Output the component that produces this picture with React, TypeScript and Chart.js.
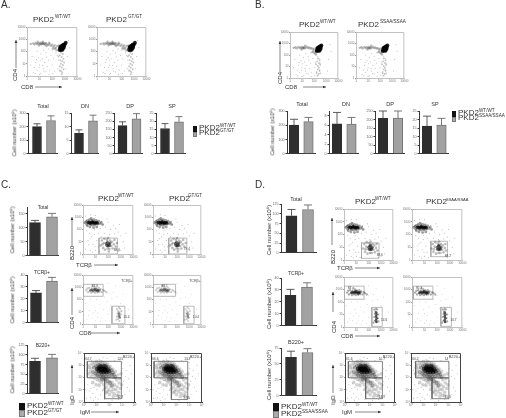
import React, { useEffect, useRef } from "react";
import { Chart, registerables } from "chart.js";
Chart.register(...registerables);

// ---------- bar data (value, top of error bar) ----------
const aTotal = [200, 245]; const aTotalErr = [221, 279];
const aDN = [7.5, 12.1]; const aDNErr = [8.8, 14.2];
const aDP = [173, 214]; const aDPErr = [196, 246];
const aSP = [15.5, 19.6]; const aSPErr = [18.5, 22.8];
const bTotal = [201, 226]; const bTotalErr = [242, 255];
const bDN = [6.3, 6.25]; const bDNErr = [8.7, 7.65];
const bDP = [207, 209]; const bDPErr = [250, 250];
const bSP = [16.2, 16.8]; const bSPErr = [22, 20.7];
const cTotal = [119, 140]; const cTotalErr = [127, 152];
const cTcr = [25, 35]; const cTcrErr = [27, 38];
const cB220 = [83.5, 92]; const cB220Err = [91, 101];
const dTotal = [95, 111]; const dTotalErr = [111, 122.5];
const dTcr = [25.6, 32.4]; const dTcrErr = [30.5, 36];
const dB220 = [60.4, 68]; const dB220Err = [70, 74];

// ---------- flow cytometry dots, in log decades ----------
type P = number[][];
const dpSparse: P = [[.5,.3],[.7,1.1],[.8,.5],[1,.9],[1.1,.2],[1.2,1.4],[1.3,.6],[1.4,1.1],[1.5,.35],[1.6,.8],[.9,1.5],[.6,.7],[1.7,1.3],[1.8,.5],[1.9,1.7],[2,.9],[2.1,1.4],[2.2,.4],[2.3,1.9],[1.1,1.8],[.4,1.6],[1.5,1.9],[.3,.9],[2,2.1],[1.7,2.2],[2.2,2.2],[2.4,1.7],[1.3,2.1],[.8,2],[3.2,1.6],[3.1,.6],[3.3,2.9],[3.4,2.3],[1,.15],[1.35,.4],[1.75,.15],[.65,.2],[2.45,.6],[2.5,1.3],[1.05,1.25],[.95,.7],[1.55,1.55],[1.25,.85],[.75,1.35],[2.05,.2]];
const dpBandA: P = [[.3,2.62],[.5,2.66],[.6,2.58],[.7,2.7],[.8,2.62],[.9,2.68],[1,2.6],[1.05,2.72],[1.1,2.64],[1.15,2.58],[1.2,2.68],[1.25,2.62],[1.3,2.72],[1.35,2.6],[1.4,2.66],[1.45,2.56],[1.5,2.7],[1.6,2.6],[1.7,2.52],[1.8,2.62],[1.9,2.46],[2,2.56],[2.1,2.4],[2.2,2.5],[2.3,2.3],[2.4,2.45],[2.35,2.1],[2.2,2.25],[2.5,2.15],[2.55,2.5],[.95,2.5],[1.25,2.8],[1.55,2.45],[1.75,2.72],[.85,2.8],[2.05,2.25]];
const dpCoreA: P = [[2.8,2.36],[2.7,2.3],[2.9,2.42],[2.75,2.2],[2.85,2.25],[2.65,2.38],[2.95,2.5],[2.78,2.48],[2.88,2.55],[2.62,2.25],[3,2.6],[2.7,2.12],[2.82,2.14],[2.93,2.32],[2.72,2.42],[3.08,2.72],[2.6,2.12]];
const dpTailA: P = [[2.7,1.9],[2.85,1.8],[2.6,1.7],[2.75,1.55],[2.9,1.4],[2.65,1.3],[2.8,1.2],[2.7,1],[2.85,.9],[2.6,.8],[2.75,.7],[2.9,.55],[2.7,.4],[2.8,.3],[2.6,.45],[2.95,1.1],[2.5,1.6],[2.75,.15]];
const dpBandB: P = [[.3,2.62],[.45,2.68],[.55,2.58],[.7,2.7],[.8,2.6],[.9,2.68],[1,2.58],[1.05,2.7],[1.1,2.62],[1.15,2.56],[1.2,2.66],[1.3,2.6],[1.4,2.72],[1.5,2.6],[1.6,2.66],[1.7,2.56],[1.8,2.6],[1.9,2.48],[2,2.55],[1.95,2.3],[2.05,2.15],[1.85,2.25],[2.15,2.05],[.95,2.48],[1.25,2.8]];
const dpCoreB: P = [[2.41,2.58],[2.32,2.52],[2.5,2.65],[2.36,2.42],[2.46,2.46],[2.26,2.6],[2.56,2.72],[2.4,2.7],[2.5,2.78],[2.24,2.46],[2.6,2.84],[2.32,2.36],[2.44,2.36],[2.54,2.54],[2.33,2.64],[2.2,2.34]];
const dpTailB: P = [[2.3,1.7],[2.45,1.55],[2.25,1.45],[2.4,1.3],[2.5,1.15],[2.3,1.05],[2.4,.9],[2.3,.75],[2.45,.65],[2.2,.5],[2.35,.35],[2.5,.4],[2.15,1.2],[2.28,.2]];

const tcrSparse: P = [[.2,.4],[.4,1.1],[.6,.3],[.7,1.4],[.8,.8],[.9,1.6],[1,.3],[1.1,1.1],[1.2,.6],[.5,1.7],[.3,1.9],[.9,1.95],[1.2,1.7],[1.4,2.1],[1.6,2.4],[1.8,2.2],[2,2.6],[2.2,2],[2.4,2.35],[2.6,2.1],[2.8,1.8],[3,1.5],[2.9,2.4],[3.2,1],[3.3,.5],[3,.3],[2.8,.2],[.45,.75],[.75,.15],[1.3,.2],[1.45,1.4],[1.7,1.7],[2.1,1.6],[2.5,1.65],[1.5,2.7],[1.9,2.85],[.2,3.1],[.6,3.2],[1,3.15],[3.4,1.7],[.95,.6],[.55,1.25]];
const tcrBHaze: P = [[.15,2.55],[.25,2.65],[.3,2.42],[.35,2.72],[.45,2.5],[.5,2.8],[.6,2.38],[.7,2.75],[.75,2.35],[.85,2.8],[.95,2.36],[1.05,2.75],[1.15,2.42],[1.25,2.68],[1.35,2.48],[1.45,2.58],[.55,2.2],[.85,2.15],[1.1,2.2],[1.55,2.4],[.35,2.3],[.65,2.9]];
const tcrBCore: P = [[.4,2.57],[.5,2.6],[.6,2.52],[.7,2.6],[.8,2.52],[.9,2.6],[1,2.55],[1.1,2.58],[.75,2.62],[.95,2.5],[1.15,2.52],[.55,2.52]];
const tcrTHazeC: P = [[1.4,.7],[1.5,1.1],[1.6,.5],[1.65,.9],[1.7,1.25],[1.75,.35],[1.85,.75],[1.9,1.15],[1.95,.45],[2,1.3],[2.1,.4],[2.15,1.1],[2.25,.65],[2.3,1],[2.35,.45],[2.45,.8],[2.5,1.15],[2.6,.6],[1.55,.8],[2.05,.2],[2.7,.9]];
const tcrTCoreC: P = [[1.85,.85],[1.95,.95],[2.05,.8],[2,.65],[2.15,.9],[1.9,.7],[2.1,.7]];
const tcrTHazeD: P = [[1.55,.9],[1.65,1.25],[1.7,.65],[1.8,1.05],[1.85,1.4],[1.9,.5],[2,.85],[2.05,1.3],[2.1,.55],[2.15,1.45],[2.25,.55],[2.3,1.25],[2.4,.8],[2.45,1.15],[2.5,.6],[2.6,.95],[2.65,1.25],[2.7,.75],[1.75,.85]];
const tcrTCoreD: P = [[2,1],[2.1,1.1],[2.2,.95],[2.15,.8],[2.3,1],[2.05,.85],[2.25,.85],[2.15,1.15]];

const cdSparse: P = [[.3,.4],[.5,1.1],[.7,.5],[.9,1.4],[1,.3],[1.2,.9],[1.35,1.6],[1.5,.5],[1.6,1.2],[1.8,.3],[1.9,1.8],[2,.8],[2.2,1.5],[2.3,2.1],[1.7,2.2],[2,2.5],[2.4,2.6],[2.7,2.2],[3,1.7],[3.2,2.4],[3.4,.7],[3.6,1.2],[.2,1.7],[.6,2],[1.1,2],[2.6,3.1],[2,3.3],[1,1.1],[.8,.9],[1.4,.2],[.45,.7],[1.15,.55]];
const cdFourHaze: P = [[.25,2.75],[.4,2.6],[.5,2.95],[.55,2.7],[.65,2.55],[.7,2.9],[.8,2.62],[.9,3],[.95,2.55],[1.05,2.92],[1.15,2.58],[1.25,2.95],[1.3,2.62],[1.4,2.85],[1.5,2.6],[1.6,2.78],[1.7,2.7],[1.85,2.6],[.35,2.9],[.75,3.1]];
const cdFourCore: P = [[.7,2.78],[.8,2.72],[.9,2.8],[1,2.72],[1.1,2.8],[1.2,2.74],[1.3,2.76],[.95,2.85],[1.15,2.68],[.6,2.74]];
const cdEightHazeC: P = [[2.7,1.2],[2.8,1.05],[2.95,1.25],[2.75,.85],[2.9,.95],[3,.8],[2.7,.6],[2.85,.65],[2.95,.5],[2.8,.4],[2.9,.25],[2.65,.35],[3.05,1.05],[2.85,1.35]];
const cdEightCoreC: P = [[2.85,.85],[2.88,.7],[2.9,.55]];
const cdEightHazeD: P = [[2.45,1.4],[2.55,1.25],[2.7,1.4],[2.5,1.05],[2.65,1.15],[2.8,1],[2.45,.8],[2.6,.85],[2.75,.7],[2.5,.5],[2.65,.4],[2.4,.35],[2.8,.45],[2.6,1.45]];
const cdEightCoreD: P = [[2.6,1.15],[2.65,1],[2.6,.85],[2.65,.7],[2.6,.55],[2.63,.4]];

const igSparse: P = [[.2,.3],[.4,.9],[.5,.35],[.6,1.5],[.7,.7],[.8,1.2],[.9,.4],[1,1],[1.1,.25],[1.15,1.5],[.3,1.4],[.35,2],[.2,2.6],[.25,3.2],[.6,3.4],[1.2,3.5],[1.8,3.55],[2.4,3.4],[3,3.2],[3.3,2.6],[3.5,1.9],[3.4,1.2],[3.2,.6],[3,.3],[3.1,1.7],[3.25,2.1],[3.55,.9],[2.7,.2],[2.2,.15],[1.6,.2],[.75,.15],[1.3,.6],[1.45,.95],[.55,1.1],[.95,1.75],[.15,1],[3.6,3],[3.7,2.3],[3.05,2.75],[2.85,3.5],[1.5,3.65],[.5,2.3]];
const igHaze: P = [[.35,2.3],[.4,2.8],[.45,3],[.5,2.5],[.55,2.05],[.6,2.75],[.65,3.15],[.7,2.25],[.75,2.95],[.8,1.95],[.85,3.2],[.9,2.55],[.95,2.15],[1,3.3],[1.05,1.85],[1.1,2.1],[1.15,3.2],[1.2,1.75],[1.25,2.05],[1.3,3.3],[1.35,1.6],[1.4,1.95],[1.45,3.25],[1.5,1.75],[1.55,1.4],[1.6,2],[1.65,3.2],[1.7,1.6],[1.75,1.2],[1.8,1.9],[1.85,3.1],[1.9,1.45],[1.95,1],[2,1.7],[2.05,2.9],[2.1,1.25],[2.15,.85],[2.2,1.6],[2.25,2.7],[2.3,1.05],[2.35,.7],[2.4,1.4],[2.45,2.5],[2.5,1],[2.55,.55],[2.6,1.25],[2.65,2.2],[2.7,.8],[2.75,1.55],[2.8,1.9],[2.85,1.1],[2.9,2.3],[2,.6],[1.75,.75],[1.6,1.05],[2.3,.45],[2.7,.5],[1.2,1.35],[.95,1.4],[.7,1.6],[2.95,1.4],[2.55,1.8],[2.3,2],[2.05,2.15],[1.85,.85]];
const igMid: P = [[.7,2.45],[.8,2.8],[.9,2.3],[.95,2.95],[1,2.5],[1.05,2.2],[1.1,3],[1.2,2.3],[1.25,3.05],[1.3,2.1],[1.4,2.25],[1.45,3],[1.5,2.05],[1.55,2.2],[1.6,3],[1.7,2.1],[1.75,2.95],[1.8,2.25],[1.9,2.85],[1.95,2.1],[2,2.7],[2.05,2.35],[2.15,2.6],[2.2,2.2],[2.25,2.4],[2.35,2.25],[1.65,1.85],[1.85,1.7],[2.05,1.55],[2.2,1.35],[2.45,2.05],[1.4,1.85]];
const igCore: P = [[1.05,2.7],[1.15,2.55],[1.2,2.8],[1.3,2.65],[1.35,2.45],[1.4,2.8],[1.45,2.6],[1.55,2.75],[1.55,2.45],[1.65,2.6],[1.7,2.8],[1.75,2.45],[1.85,2.65],[1.95,2.5],[1.3,2.9],[1.6,2.9]];

// ---------- names ----------
const wtLabel = "PKD2"; const wtSup = "WT/WT"; const gtSup = "GT/GT"; const ssSup = "SSAA/SSAA";
const decadeTicks = ["1", "10", "100", "1000", "10000"];
const powerTicks = ["10⁰", "10¹", "10²", "10³", "10⁴"];
const yLabelText = "Cell number (x10⁶)";
const darkFill = "#2e2e2e"; const lightFill = "#a2a2a2"; const lightEdge = "#757575";
const FONT = '"Liberation Sans", Arial, sans-serif';

type Box = [number, number, number, number];

function BarPlot({ box, vals, errs, max, step, c1, c2, thick, cap }: { box: Box; vals: number[]; errs: number[]; max: number; step: number; c1: number; c2: number; thick: number; cap: number }) {
  const ref = useRef<HTMLCanvasElement>(null);
  const ml = 14, mb = 2, mt = 4, mr = 2;
  const [x, y, w, h] = box;
  useEffect(() => {
    const s = c2 - c1;
    const chart = new Chart(ref.current as HTMLCanvasElement, {
      type: "bar",
      data: {
        datasets: [{
          data: vals.map((v, i) => ({ x: i + 1, y: v })),
          backgroundColor: [darkFill, lightFill],
          borderColor: [darkFill, lightEdge],
          borderWidth: 1,
          barThickness: thick,
        }],
      },
      options: {
        animation: false, responsive: false, devicePixelRatio: 1,
        layout: { padding: { top: mt, right: mr, left: 0, bottom: 0 } },
        plugins: { legend: { display: false }, tooltip: { enabled: false } },
        scales: {
          x: {
            type: "linear", offset: false,
            min: 1 - (c1 - x) / s, max: 2 + (x + w - c2) / s,
            ticks: { display: false }, grid: { display: false },
            border: { color: "#3a3a3a", width: 1 },
            afterFit: (sc: any) => { sc.height = mb; },
          },
          y: {
            min: 0, max,
            ticks: { stepSize: step, font: { size: 3.6, family: FONT }, color: "#666", padding: 1 },
            grid: { drawOnChartArea: false, tickLength: 1.5, color: "#3a3a3a" },
            border: { color: "#3a3a3a", width: 1 },
            afterFit: (sc: any) => { sc.width = ml; },
          },
        },
      } as any,
      plugins: [{
        id: "errorBars",
        afterDatasetsDraw(c: any) {
          const g = c.ctx;
          errs.forEach((e, i) => {
            const px = c.scales.x.getPixelForValue(i + 1);
            const t = c.scales.y.getPixelForValue(e);
            const b = c.scales.y.getPixelForValue(vals[i]);
            g.save();
            g.strokeStyle = i === 0 ? "#4a4a4a" : "#6a6a6a";
            g.lineWidth = 0.9;
            g.beginPath();
            g.moveTo(px, b); g.lineTo(px, t);
            g.moveTo(px - cap / 2, t); g.lineTo(px + cap / 2, t);
            g.stroke();
            g.restore();
          });
        },
      }],
    });
    return () => chart.destroy();
  }, []);
  return <canvas ref={ref} width={w + ml + mr} height={h + mt + mb} style={{ position: "absolute", left: x - ml, top: y - mt }} />;
}

type Layer = { pts: P; r: number; color: string };
type Gate = number[][];
type Note = { x: number; y: number; text: string; size?: number; align?: CanvasTextAlign };

function FlowPlot({ box, layers, gates = [], notes = [], frame = "#c2c2c2", gateColor = "#a8a8a8", labels = decadeTicks }: { box: Box; layers: Layer[]; gates?: Gate[]; notes?: Note[]; frame?: string; gateColor?: string; labels?: string[] }) {
  const ref = useRef<HTMLCanvasElement>(null);
  const ml = 9, mb = 6, mt = 3, mr = 4;
  const [x, y, w, h] = box;
  useEffect(() => {
    const chart = new Chart(ref.current as HTMLCanvasElement, {
      type: "scatter",
      data: {
        datasets: [
          ...layers.map((l) => ({
            data: l.pts.map((p) => ({ x: p[0], y: p[1] })),
            pointRadius: l.r, backgroundColor: l.color, pointBorderWidth: 0, showLine: false,
          })),
          ...gates.map((g) => ({
            data: g.map((p) => ({ x: p[0], y: p[1] })),
            pointRadius: 0, showLine: true, borderColor: gateColor, borderWidth: 0.8, fill: false, tension: 0,
          })),
        ],
      },
      options: {
        animation: false, responsive: false, devicePixelRatio: 1,
        layout: { padding: { top: mt, right: mr, left: 0, bottom: 0 } },
        plugins: { legend: { display: false }, tooltip: { enabled: false } },
        scales: {
          x: {
            type: "linear", min: 0, max: 4,
            ticks: { stepSize: 1, autoSkip: false, maxRotation: 0, callback: (v: number) => labels[v], font: { size: 3, family: FONT }, color: "#777", padding: 0.5 },
            grid: { drawOnChartArea: false, tickLength: 1, color: "#999" },
            border: { color: frame, width: 1 },
            afterFit: (sc: any) => { sc.height = mb; },
          },
          y: {
            type: "linear", min: 0, max: 4,
            ticks: { stepSize: 1, autoSkip: false, callback: (v: number) => labels[v], font: { size: 3, family: FONT }, color: "#777", padding: 0.5 },
            grid: { drawOnChartArea: false, tickLength: 1, color: "#999" },
            border: { color: frame, width: 1 },
            afterFit: (sc: any) => { sc.width = ml; },
          },
        },
      } as any,
      plugins: [{
        id: "frameAndNotes",
        afterDatasetsDraw(c: any) {
          const g = c.ctx; const a = c.chartArea;
          g.save();
          g.strokeStyle = frame; g.lineWidth = 1;
          g.beginPath();
          g.moveTo(a.left, a.top + 0.5); g.lineTo(a.right - 0.5, a.top + 0.5); g.lineTo(a.right - 0.5, a.bottom);
          g.stroke();
          notes.forEach((n) => {
            g.font = `${n.size ?? 3.2}px ${FONT}`;
            g.fillStyle = "#444";
            g.textAlign = n.align ?? "left";
            g.fillText(n.text, c.scales.x.getPixelForValue(n.x), c.scales.y.getPixelForValue(n.y));
          });
          g.restore();
        },
      }],
    });
    return () => chart.destroy();
  }, []);
  return <canvas ref={ref} width={w + ml + mr} height={h + mt + mb} style={{ position: "absolute", left: x - ml, top: y - mt }} />;
}

function T({ x, y, size, children, center, color = "#2a2a2a" }: { x: number; y: number; size: number; children: React.ReactNode; center?: boolean; color?: string }) {
  return <div style={{ position: "absolute", left: x, top: y - size * 0.8465, fontSize: size, lineHeight: 1, whiteSpace: "nowrap", fontFamily: FONT, color, willChange: "opacity", opacity: 0.97, transform: center ? "translateX(-50%)" : undefined }}>{children}</div>;
}
function V({ x, y, size, children }: { x: number; y: number; size: number; children: React.ReactNode }) {
  return <div style={{ position: "absolute", left: x, top: y, fontSize: size, lineHeight: 1, whiteSpace: "nowrap", fontFamily: FONT, color: "#2a2a2a", willChange: "opacity", opacity: 0.97, transform: "translate(-50%,-50%) rotate(-90deg)" }}>{children}</div>;
}
function Title({ x, y, sup, supX, supSize = 4.6 }: { x: number; y: number; sup: string; supX: number; supSize?: number }) {
  return <>
    <T x={x} y={y} size={8}>{wtLabel}</T>
    <T x={supX} y={y - 4} size={supSize}>{sup}</T>
  </>;
}
function Legend({ x, y, h, sup1, sup2, tx }: { x: number; y: number; h: number; sup1: string; sup2: string; tx: number }) {
  return <>
    <div style={{ position: "absolute", left: x, top: y, width: tx - x - 2, height: h, background: "#111" }} />
    <div style={{ position: "absolute", left: x, top: y + h, width: tx - x - 2, height: h, background: "#aaa", boxSizing: "border-box", border: "1px solid #777" }} />
    <T x={tx} y={y + h - 1} size={8}>{wtLabel}</T>
    <T x={tx + 21} y={y + h - 4} size={4.6}>{sup1}</T>
    <T x={tx} y={y + 2 * h - 1} size={8}>{wtLabel}</T>
    <T x={tx + 21} y={y + 2 * h - 4} size={4.6}>{sup2}</T>
  </>;
}

const SPARSE = "rgba(110,110,110,0.55)";
const dpLayers = (band: P, core: P, tail: P): Layer[] => [
  { pts: dpSparse, r: 0.5, color: SPARSE },
  { pts: tail, r: 0.95, color: "rgba(90,90,90,0.35)" },
  { pts: band, r: 1.2, color: "rgba(60,60,60,0.35)" },
  { pts: core, r: 1.9, color: "rgba(0,0,0,0.85)" },
];
const tcrLayers = (haze: P, core: P): Layer[] => [
  { pts: tcrSparse, r: 0.5, color: SPARSE },
  { pts: haze, r: 1.3, color: "rgba(60,60,60,0.35)" },
  { pts: tcrBHaze, r: 1.4, color: "rgba(40,40,40,0.45)" },
  { pts: tcrBCore, r: 1.6, color: "rgba(0,0,0,0.75)" },
  { pts: core, r: 1.5, color: "rgba(20,20,20,0.6)" },
];
const cdLayers = (haze: P, core: P, k: number): Layer[] => [
  { pts: cdSparse, r: 0.45, color: "rgba(120,120,120,0.5)" },
  { pts: cdFourHaze, r: 1.15, color: `rgba(60,60,60,${0.35 * k})` },
  { pts: cdFourCore, r: 1.4, color: `rgba(10,10,10,${0.5 * k})` },
  { pts: haze, r: 1.05, color: `rgba(60,60,60,${0.35 * k})` },
  { pts: core, r: 1.3, color: `rgba(10,10,10,${0.5 * k})` },
];
const igLayers: Layer[] = [
  { pts: igSparse, r: 0.5, color: SPARSE },
  { pts: igHaze, r: 1.8, color: "rgba(90,90,90,0.28)" },
  { pts: igMid, r: 2, color: "rgba(50,50,50,0.4)" },
  { pts: igCore, r: 2.4, color: "rgba(0,0,0,0.7)" },
];
const box = (x0: number, x1: number, y0: number, y1: number): Gate => [[x0, y0], [x1, y0], [x1, y1], [x0, y1], [x0, y0]];
const igGates = (l: number, m: number, r: number, b: number): Gate[] => [box(l, r, 1.97, 3.32), box(m, r, b, 1.97)];

export default function App() {
  useEffect(() => { document.body.style.margin = "0"; }, []);
  const arrows: number[][] = [
    [16, 68, 16, 40], [35, 87, 62, 87], [280, 72, 280, 41], [303, 87, 326, 87],
    [72, 247, 72, 217], [94, 265, 118, 265], [72, 315, 72, 288], [91, 333, 120, 333], [72, 393, 72, 365], [91, 412, 119, 412],
    [332, 245, 332, 218], [355, 268, 380, 268], [333, 312, 333, 292], [355, 336, 380, 336], [333, 393, 333, 365], [355, 412, 381, 412],
  ];
  return (
    <div style={{ position: "absolute", left: 0, top: 0, width: 506, height: 418, overflow: "hidden", background: "#fff", filter: "blur(0.4px)" }}>
      {/* Panel letters */}
      <T x={1} y={8} size={10}>A.</T>
      <T x={255} y={8} size={10}>B.</T>
      <T x={1} y={188} size={10}>C.</T>
      <T x={255} y={188} size={10}>D.</T>

      {/* Panel A */}
      <Title x={33} y={23} sup={wtSup} supX={55} />
      <Title x={106} y={23} sup={gtSup} supX={128} />
      <FlowPlot box={[27, 26, 51, 50]} layers={dpLayers(dpBandA, dpCoreA, dpTailA)} />
      <FlowPlot box={[97, 26, 50, 50]} layers={dpLayers(dpBandA, dpCoreA, dpTailA)} />
      <V x={15} y={75} size={6}>CD4</V>
      <T x={21} y={89} size={6}>CD8</T>
      <T x={43} y={109} size={5.5} center>Total</T>
      <T x={85} y={109} size={5.5} center>DN</T>
      <T x={130} y={109} size={5.5} center>DP</T>
      <T x={172} y={109} size={5.5} center>SP</T>
      <V x={15} y={133} size={5.6}>{yLabelText}</V>
      <BarPlot box={[28, 113, 29, 42]} vals={aTotal} errs={aTotalErr} max={300} step={100} c1={37} c2={51} thick={9} cap={7} />
      <BarPlot box={[71, 113, 27, 42]} vals={aDN} errs={aDNErr} max={15} step={5} c1={79} c2={93} thick={9} cap={7} />
      <BarPlot box={[114, 113, 28, 42]} vals={aDP} errs={aDPErr} max={250} step={50} c1={122.5} c2={136.5} thick={9} cap={7} />
      <BarPlot box={[156, 113, 29, 42]} vals={aSP} errs={aSPErr} max={25} step={5} c1={165} c2={179} thick={9} cap={7} />
      <Legend x={193} y={126} h={5.5} sup1={wtSup} sup2={gtSup} tx={199} />

      {/* Panel B */}
      <Title x={299} y={28} sup={wtSup} supX={320} />
      <Title x={358} y={28} sup={ssSup} supX={380} />
      <FlowPlot box={[290, 31, 49, 47]} layers={dpLayers(dpBandB, dpCoreB, dpTailB)} />
      <FlowPlot box={[356, 31, 49, 47]} layers={dpLayers(dpBandB, dpCoreB, dpTailB)} />
      <V x={280} y={78} size={6}>CD4</V>
      <T x={285} y={89} size={6}>CD8</T>
      <T x={302} y={107} size={5.5} center>Total</T>
      <T x={346} y={107} size={5.5} center>DN</T>
      <T x={390} y={107} size={5.5} center>DP</T>
      <T x={435} y={107} size={5.5} center>SP</T>
      <V x={273} y={132} size={5.6}>{yLabelText}</V>
      <BarPlot box={[287, 111, 28, 44]} vals={bTotal} errs={bTotalErr} max={300} step={100} c1={294} c2={308.5} thick={9.5} cap={8} />
      <BarPlot box={[329, 111, 29, 44]} vals={bDN} errs={bDNErr} max={9} step={1} c1={337} c2={351.5} thick={9.5} cap={8} />
      <BarPlot box={[375, 111, 29, 44]} vals={bDP} errs={bDPErr} max={250} step={50} c1={383} c2={398} thick={9.5} cap={8} />
      <BarPlot box={[419, 111, 29, 44]} vals={bSP} errs={bSPErr} max={25} step={5} c1={427} c2={441.5} thick={9.5} cap={8} />
      <Legend x={452} y={111} h={5.5} sup1={wtSup} sup2={ssSup} tx={458} />

      {/* Panel C */}
      <Title x={98} y={202} sup={wtSup} supX={118} />
      <Title x={169} y={202} sup={gtSup} supX={188} />
      <T x={43} y={209} size={5} center>Total</T>
      <V x={13} y={230} size={5.6}>{yLabelText}</V>
      <BarPlot box={[27, 207, 31, 50]} vals={cTotal} errs={cTotalErr} max={175} step={25} c1={35} c2={52} thick={11} cap={8} />
      <FlowPlot box={[83, 204, 51, 50]} layers={tcrLayers(tcrTHazeC, tcrTCoreC)} gates={[box(1.27, 2.73, 0, 1.3)]} notes={[{ x: 2.45, y: 0.25, text: "88.6" }]} />
      <FlowPlot box={[153, 204, 49, 50]} layers={tcrLayers(tcrTHazeC, tcrTCoreC)} gates={[box(1.3, 2.8, 0, 1.3)]} notes={[{ x: 2.55, y: 0.3, text: "79.4" }]} />
      <V x={72} y={253} size={6}>B220</V>
      <T x={76} y={267} size={6}>TCRβ</T>

      <T x={42} y={274} size={5} center>TCRβ+</T>
      <V x={13} y={300} size={5.6}>{yLabelText}</V>
      <BarPlot box={[27, 275, 31, 49]} vals={cTcr} errs={cTcrErr} max={40} step={10} c1={36} c2={52} thick={11} cap={8} />
      <FlowPlot box={[83, 274, 51, 50]} layers={cdLayers(cdEightHazeC, cdEightCoreC, 0.85)} gates={[box(0, 1.6, 2.26, 3.24), box(2.3, 3.33, 0.02, 1.45)]} notes={[{ x: 0.7, y: 3.03, text: "87.6" }, { x: 3.2, y: 0.5, text: "10.4" }, { x: 3.95, y: 3.45, text: "TCRβ+", size: 3.6, align: "right" }]} />
      <FlowPlot box={[153, 274, 49, 50]} layers={cdLayers(cdEightHazeC, cdEightCoreC, 0.7)} gates={[box(0, 1.87, 2.26, 3.24), box(2.55, 3.4, 0.02, 1.45)]} notes={[{ x: 0.7, y: 3.03, text: "88.1" }, { x: 3.3, y: 0.5, text: "10.4" }, { x: 3.95, y: 3.45, text: "TCRβ+", size: 3.6, align: "right" }]} />
      <V x={72} y={323} size={6}>CD4</V>
      <T x={79} y={335} size={6}>CD8</T>

      <T x={43} y={347} size={5} center>B220+</T>
      <V x={13} y={370} size={5.6}>{yLabelText}</V>
      <BarPlot box={[27, 345, 31, 50]} vals={cB220} errs={cB220Err} max={125} step={25} c1={35} c2={52} thick={11} cap={8} />
      <FlowPlot box={[84, 352, 51, 50]} layers={igLayers} frame="#444" gateColor="#666" labels={powerTicks} gates={igGates(0.26, 1.62, 2.93, 0.27)} notes={[{ x: 0.1, y: 3.42, text: "64.7" }, { x: 2.6, y: 3.42, text: "12.5" }, { x: 2.6, y: 0.35, text: "12.7" }, { x: 3.95, y: 3.6, text: "B220+", size: 4, align: "right" }]} />
      <FlowPlot box={[151, 352, 51, 50]} layers={igLayers} frame="#444" gateColor="#666" labels={powerTicks} gates={igGates(0.24, 1.6, 2.88, 0.2)} notes={[{ x: 0.1, y: 3.42, text: "66.6" }, { x: 2.6, y: 3.42, text: "13.3" }, { x: 2.55, y: 0.22, text: "9.85" }, { x: 3.95, y: 3.6, text: "B220+", size: 4, align: "right" }]} />
      <V x={72} y={400} size={6}>IgD</V>
      <T x={80} y={414} size={6}>IgM</T>
      <Legend x={19} y={403} h={7} sup1={wtSup} sup2={gtSup} tx={27} />

      {/* Panel D */}
      <Title x={355} y={205} sup={wtSup} supX={375} />
      <Title x={426} y={205} sup={ssSup} supX={446} supSize={4} />
      <T x={296} y={202} size={5.5} center>Total</T>
      <V x={269} y={230} size={6}>{yLabelText}</V>
      <BarPlot box={[281, 204, 35, 50]} vals={dTotal} errs={dTotalErr} max={125} step={25} c1={291.5} c2={308} thick={11} cap={8} />
      <FlowPlot box={[344, 208, 50, 52]} layers={tcrLayers(tcrTHazeD, tcrTCoreD)} gates={[box(1.42, 2.84, 0.13, 1.34)]} notes={[{ x: 2.65, y: 0.3, text: "88.6" }]} />
      <FlowPlot box={[412, 208, 51, 52]} layers={tcrLayers(tcrTHazeD, tcrTCoreD)} gates={[box(1.5, 2.82, 0.26, 1.47)]} notes={[{ x: 2.6, y: 0.2, text: "88.7" }]} />
      <V x={333} y={257} size={6}>B220</V>
      <T x={337} y={270} size={6}>TCRβ</T>

      <T x={296} y={275} size={5} center>TCRβ+</T>
      <V x={269} y={304} size={6}>{yLabelText}</V>
      <BarPlot box={[281, 278, 35, 49]} vals={dTcr} errs={dTcrErr} max={40} step={10} c1={290.5} c2={307} thick={11} cap={8} />
      <FlowPlot box={[344, 276, 50, 51]} layers={cdLayers(cdEightHazeD, cdEightCoreD, 1.25)} gates={[box(0, 1.63, 2.22, 3.27), box(2.26, 3.1, 0.05, 1.57)]} notes={[{ x: 0.3, y: 3.03, text: "84" }, { x: 3, y: 0.5, text: "14.6" }]} />
      <FlowPlot box={[412, 276, 51, 51]} layers={cdLayers(cdEightHazeD, cdEightCoreD, 1.25)} gates={[box(0.1, 1.66, 2.22, 3.27), box(2.29, 3.13, 0.05, 1.57)]} notes={[{ x: 0.3, y: 3.03, text: "90.1" }, { x: 3.05, y: 0.45, text: "10.7" }]} />
      <V x={334} y={327} size={6}>CD4</V>
      <T x={341} y={338} size={6}>CD8</T>

      <T x={296} y={345} size={5.5} center>B220+</T>
      <V x={269} y={375} size={6}>{yLabelText}</V>
      <BarPlot box={[281, 348, 35, 49]} vals={dB220} errs={dB220Err} max={75} step={25} c1={291} c2={307.5} thick={11} cap={8} />
      <FlowPlot box={[345, 352, 50, 50]} layers={igLayers} frame="#444" gateColor="#666" labels={powerTicks} gates={igGates(0.27, 1.65, 2.99, 0.27)} notes={[{ x: 0.1, y: 3.42, text: "61.6" }, { x: 2.7, y: 3.42, text: "10.7" }, { x: 2.7, y: 0.35, text: "14.9" }, { x: 3.95, y: 3.6, text: "B220+", size: 4, align: "right" }]} />
      <FlowPlot box={[411, 352, 50, 50]} layers={igLayers} frame="#444" gateColor="#666" labels={powerTicks} gates={igGates(0.37, 1.68, 3.03, 0.27)} notes={[{ x: 0.1, y: 3.42, text: "60.2" }, { x: 2.7, y: 3.42, text: "13" }, { x: 2.7, y: 0.35, text: "15.5" }, { x: 3.95, y: 3.6, text: "B220+", size: 4, align: "right" }]} />
      <V x={333} y={400} size={6}>IgD</V>
      <T x={342} y={414} size={6}>IgM</T>
      <Legend x={273} y={403} h={7.5} sup1={wtSup} sup2={ssSup} tx={281} />

      <svg width={506} height={418} style={{ position: "absolute", left: 0, top: 0 }}>
        {arrows.map((a, i) => {
          const [x1, y1, x2, y2] = a;
          const vert = x1 === x2;
          const head = vert ? `${x2 - 1.3},${y2 + 3} ${x2 + 1.3},${y2 + 3} ${x2},${y2}` : `${x2 - 3},${y2 - 1.3} ${x2 - 3},${y2 + 1.3} ${x2},${y2}`;
          return <g key={i}><line x1={x1} y1={y1} x2={x2} y2={y2} stroke="#555" strokeWidth={0.7} /><polygon points={head} fill="#333" /></g>;
        })}
      </svg>
    </div>
  );
}
